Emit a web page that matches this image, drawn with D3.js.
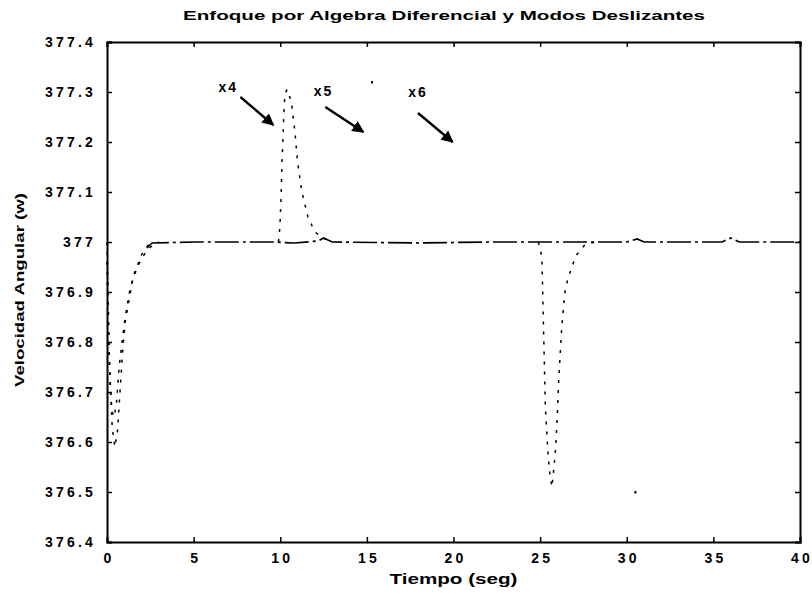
<!DOCTYPE html>
<html>
<head>
<meta charset="utf-8">
<script src="https://cdn.jsdelivr.net/npm/d3@7"></script>
<style>
  html, body { margin: 0; padding: 0; background: #fff; }
  svg { display: block; }
  text { font-family: "Liberation Sans", Arial, sans-serif; font-weight: bold; fill: #000; }
</style>
</head>
<body>
<svg id="chart" width="812" height="595"></svg>
<script>
// Axis ticks
const xTicks = [0, 5, 10, 15, 20, 25, 30, 35, 40];
const yTicks = [376.4, 376.5, 376.6, 376.7, 376.8, 376.9, 377.0, 377.1, 377.2, 377.3, 377.4];

// Main response (dash-dot): settles at 377 and stays there
const mainT = [2.3, 2.6, 5, 9.6, 10.8, 12.2, 12.5, 13, 18, 22, 25.2, 27.5, 30, 30.6, 31, 33, 35.5, 36, 36.5, 40];
const mainW = [376.988, 376.998, 377.0, 377.0, 376.998, 377.002, 377.008, 377.0, 376.998, 377.0, 377.0, 377.0, 377.0, 377.006, 377.0, 377.0, 377.0, 377.008, 377.0, 377.0];

// Start-up transient, outer dotted trace
const startAT = [0, 0.15, 0.3, 0.45, 0.6, 0.75, 0.9, 1.05, 1.2, 1.45, 1.7, 1.9, 2.2, 2.5, 3.0];
const startAW = [377.0, 376.75, 376.63, 376.59, 376.62, 376.7, 376.78, 376.84, 376.87, 376.92, 376.945, 376.96, 376.978, 376.99, 377.0];

// Start-up transient, inner dotted trace
const startBT = [0, 0.1, 0.2, 0.3, 0.42, 0.55, 0.7, 0.87, 1.05, 1.3, 1.6, 2.0, 2.4];
const startBW = [376.96, 376.8, 376.7, 376.66, 376.65, 376.68, 376.75, 376.8, 376.85, 376.9, 376.94, 376.975, 376.995];

// Load disturbance near t = 10 s (overshoot)
const spikeT = [9.9, 9.98, 10.05, 10.1, 10.15, 10.2, 10.27, 10.39, 10.55, 10.68, 10.85, 11.0, 11.25, 11.6, 12.0, 12.46, 13.0];
const spikeW = [377.0, 377.03, 377.09, 377.16, 377.2, 377.25, 377.295, 377.305, 377.29, 377.27, 377.22, 377.16, 377.1, 377.05, 377.02, 377.008, 377.0];

// Load disturbance near t = 25 s (undershoot)
const dipT = [24.9, 25.1, 25.15, 25.2, 25.25, 25.3, 25.45, 25.55, 25.68, 25.8, 25.9, 26.0, 26.08, 26.25, 26.43, 26.6, 26.83, 27.1, 27.6, 28.2];
const dipW = [377.0, 376.97, 376.9, 376.82, 376.75, 376.67, 376.58, 376.54, 376.51, 376.55, 376.59, 376.66, 376.73, 376.83, 376.9, 376.926, 376.95, 376.974, 376.995, 377.0];

// Isolated specks
const speckT = [15.3, 30.5];
const speckW = [377.32, 376.5];

// Annotations: label, label position, arrow start, arrow end (data units)
const labelNames = ["x4", "x5", "x6"];
const labelT = [7.0, 12.5, 17.95];
const labelW = [377.308, 377.3, 377.298];
const arrowFromT = [7.7, 12.6, 17.95];
const arrowFromW = [377.29, 377.27, 377.258];
const arrowToT = [9.6, 14.8, 19.95];
const arrowToW = [377.234, 377.22, 377.2];

const svg = d3.select("#chart");
const margin = { left: 107, right: 12, top: 42, bottom: 53 };
const W = 812, H = 595;
const x = d3.scaleLinear().domain([0, 40]).range([margin.left, W - margin.right]);
const y = d3.scaleLinear().domain([376.4, 377.4]).range([H - margin.bottom, margin.top]);

const fmt = v => Math.abs(v - Math.round(v)) < 1e-9 ? d3.format("d")(v) : d3.format(".1f")(v);

// Axes with inward ticks on all four sides
const axB = d3.axisBottom(x).tickValues(xTicks).tickSize(-5).tickPadding(11).tickFormat(d3.format("d"));
const axT = d3.axisTop(x).tickValues(xTicks).tickSize(-5).tickFormat("");
const axL = d3.axisLeft(y).tickValues(yTicks).tickSize(-5).tickPadding(11).tickFormat(fmt);
const axR = d3.axisRight(y).tickValues(yTicks).tickSize(-5).tickFormat("");

function styleAxis(g) {
  g.select(".domain").attr("stroke", "#000").attr("stroke-width", 2);
  g.selectAll(".tick line").attr("stroke", "#000").attr("stroke-width", 1.5);
  g.selectAll(".tick text").style("font-size", "14px").style("letter-spacing", "3.2px")
    .style("font-family", "'Liberation Sans', Arial, sans-serif").style("font-weight", "bold").attr("fill", "#000");
}
svg.append("g").attr("transform", `translate(0,${y(376.4)})`).call(axB).call(styleAxis)
  .selectAll(".tick text").attr("dx", "1.6px");
svg.append("g").attr("transform", `translate(0,${y(377.4)})`).call(axT).call(styleAxis);
svg.append("g").attr("transform", `translate(${x(0)},0)`).call(axL).call(styleAxis);
svg.append("g").attr("transform", `translate(${x(40)},0)`).call(axR).call(styleAxis);

const line = d3.line().x(d => x(d[0])).y(d => y(d[1]));
const zip = (a, b) => a.map((v, i) => [v, b[i]]);

const plot = svg.append("g");
plot.append("path").datum(zip(mainT, mainW)).attr("d", line)
  .attr("fill", "none").attr("stroke", "#000").attr("stroke-width", 1.7)
  .attr("stroke-dasharray", "24,4,3,4");

[[startAT, startAW], [startBT, startBW], [spikeT, spikeW], [dipT, dipW]].forEach(([t, w]) => {
  plot.append("path").datum(zip(t, w)).attr("d", line)
    .attr("fill", "none").attr("stroke", "#000").attr("stroke-width", 1.5)
    .attr("stroke-dasharray", "3,7");
});

plot.selectAll("rect.speck").data(zip(speckT, speckW)).join("rect")
  .attr("class", "speck")
  .attr("x", d => x(d[0]) - 1).attr("y", d => y(d[1]) - 1)
  .attr("width", 2).attr("height", 2.5).attr("fill", "#000");

// Arrowhead marker
svg.append("defs").append("marker")
  .attr("id", "head").attr("viewBox", "0 0 10 10").attr("refX", 9).attr("refY", 5)
  .attr("markerWidth", 5).attr("markerHeight", 5).attr("orient", "auto")
  .append("path").attr("d", "M0,0 L10,5 L0,10 Z").attr("fill", "#000");

labelNames.forEach((name, i) => {
  svg.append("line")
    .attr("x1", x(arrowFromT[i])).attr("y1", y(arrowFromW[i]))
    .attr("x2", x(arrowToT[i])).attr("y2", y(arrowToW[i]))
    .attr("stroke", "#000").attr("stroke-width", 2.4).attr("marker-end", "url(#head)");
  svg.append("text").attr("x", x(labelT[i])).attr("y", y(labelW[i]))
    .attr("text-anchor", "middle").attr("dominant-baseline", "middle")
    .style("font-size", "14px").style("letter-spacing", "2px").text(name);
});

// Titles, stretched to the widths of the lettering
svg.append("text").attr("x", 444).attr("y", 17).attr("text-anchor", "middle")
  .attr("dominant-baseline", "middle").style("font-size", "13px")
  .attr("textLength", 522).attr("lengthAdjust", "spacingAndGlyphs")
  .text("Enfoque por Algebra Diferencial y Modos Deslizantes");
svg.append("text").attr("x", (x(0) + x(40)) / 2).attr("y", 580).attr("text-anchor", "middle")
  .attr("dominant-baseline", "middle").style("font-size", "14px")
  .attr("textLength", 128).attr("lengthAdjust", "spacingAndGlyphs")
  .text("Tiempo (seg)");
svg.append("text").attr("transform", `translate(21,${(y(376.4) + y(377.4)) / 2 - 2}) rotate(-90)`)
  .attr("text-anchor", "middle").attr("dominant-baseline", "middle")
  .style("font-size", "13px")
  .attr("textLength", 194).attr("lengthAdjust", "spacingAndGlyphs")
  .text("Velocidad Angular (w)");
</script>
</body>
</html>
